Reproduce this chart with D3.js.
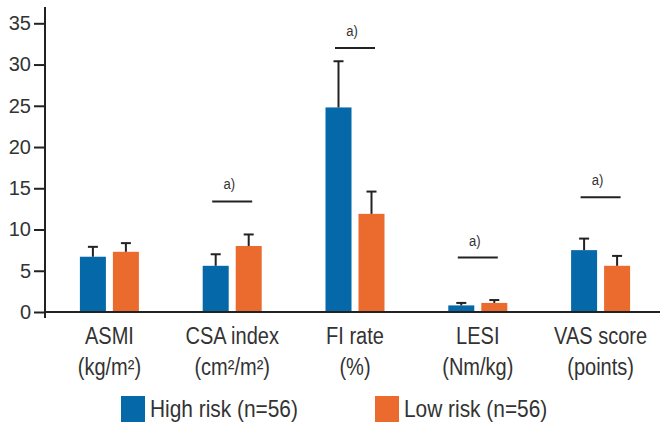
<!DOCTYPE html>
<html>
<head>
<meta charset="utf-8">
<script src="https://d3js.org/d3.v7.min.js"></script>
<title>Risk groups</title>
<style>
body {margin:0; background:#fff;}
text {font-family:"Liberation Sans",Arial,sans-serif; fill:#333;}
</style>
</head>
<body>
<div id="myDiv"></div>
<script>
// data
var categories = ["ASMI", "CSA index", "FI rate", "LESI", "VAS score"];
var units = ["(kg/m\u00B2)", "(cm\u00B2/m\u00B2)", "(%)", "(Nm/kg)", "(points)"];
var groups = ["High risk (n=56)", "Low risk (n=56)"];
var highMean = [6.7, 5.6, 24.8, 0.8, 7.5];
var highErr = [1.2, 1.4, 5.6, 0.3, 1.4];
var lowMean = [7.3, 8.0, 11.9, 1.1, 5.6];
var lowErr = [1.05, 1.4, 2.7, 0.35, 1.2];
var sigLevel = [null, 13.4, 32.0, 6.6, 13.9];
var sigLabel = "a)";
var yTicks = [0, 5, 10, 15, 20, 25, 30, 35];
var colors = ["#0468a9", "#eb6a2e"];

var width = 665, height = 430;
var squeeze = 0.87; // the figure uses a condensed face

var svg = d3.select("#myDiv").append("svg")
	.attr("width", width)
	.attr("height", height);

// scales
var yScale = d3.scaleLinear()
	.domain([0, 35])
	.range([312, 23.3]);

var x0 = d3.scaleBand()
	.domain(categories)
	.range([48, 662]);

var x1 = d3.scaleBand()
	.domain(groups)
	.range([0, 59])
	.paddingInner(0.212);

var groupOffset = (x0.bandwidth() - 59) / 2;

// rows for bars
var rows = [];
categories.forEach(function(c, i) {
	rows.push({cat: c, group: groups[0], mean: highMean[i], err: highErr[i], color: colors[0]});
	rows.push({cat: c, group: groups[1], mean: lowMean[i], err: lowErr[i], color: colors[1]});
});

function barX(d) { return x0(d.cat) + groupOffset + x1(d.group); }

// bars
svg.selectAll("rect.bar").data(rows).enter()
	.append("rect")
	.attr("class", "bar")
	.attr("x", barX)
	.attr("y", function(d) { return yScale(d.mean); })
	.attr("width", x1.bandwidth())
	.attr("height", function(d) { return yScale(0) - yScale(d.mean); })
	.attr("fill", function(d) { return d.color; });

// error bars
var err = svg.selectAll("g.err").data(rows).enter()
	.append("g")
	.attr("class", "err")
	.attr("stroke", "#222")
	.attr("stroke-width", 2);
err.append("line")
	.attr("x1", function(d) { return barX(d) + x1.bandwidth() / 2; })
	.attr("x2", function(d) { return barX(d) + x1.bandwidth() / 2; })
	.attr("y1", function(d) { return yScale(d.mean); })
	.attr("y2", function(d) { return yScale(d.mean + d.err); });
err.append("line")
	.attr("x1", function(d) { return barX(d) + x1.bandwidth() / 2 - 5; })
	.attr("x2", function(d) { return barX(d) + x1.bandwidth() / 2 + 5; })
	.attr("y1", function(d) { return yScale(d.mean + d.err); })
	.attr("y2", function(d) { return yScale(d.mean + d.err); });

// significance marks
var sig = categories.map(function(c, i) { return {cat: c, level: sigLevel[i]}; })
	.filter(function(d) { return d.level !== null; });

svg.selectAll("line.sig").data(sig).enter()
	.append("line")
	.attr("class", "sig")
	.attr("x1", function(d) { return x0(d.cat) + x0.bandwidth() / 2 - 20; })
	.attr("x2", function(d) { return x0(d.cat) + x0.bandwidth() / 2 + 20; })
	.attr("y1", function(d) { return yScale(d.level); })
	.attr("y2", function(d) { return yScale(d.level); })
	.attr("stroke", "#222")
	.attr("stroke-width", 2);

svg.selectAll("text.sig").data(sig).enter()
	.append("text")
	.attr("class", "sig")
	.attr("transform", function(d) {
		return "translate(" + (x0(d.cat) + x0.bandwidth() / 2 - 3) + "," + (yScale(d.level) - 12) + ") scale(" + squeeze + ",1)";
	})
	.attr("text-anchor", "middle")
	.style("font-size", "15px")
	.text(sigLabel);

// y axis
var yaxis = d3.axisLeft(yScale)
	.tickValues(yTicks)
	.tickSize(11)
	.tickPadding(3);

var gy = svg.append("g")
	.attr("transform", "translate(45,0)")
	.call(yaxis);
gy.select(".domain").remove();
gy.selectAll("line").attr("stroke", "#222").attr("stroke-width", 2);
gy.selectAll("text")
	.style("font-family", "'Liberation Sans', sans-serif")
	.style("font-size", "20px")
	.attr("fill", "#333");

gy.append("line")
	.attr("x1", 0).attr("x2", 0)
	.attr("y1", 7).attr("y2", 318)
	.attr("stroke", "#222")
	.attr("stroke-width", 2);

// x axis line
svg.append("line")
	.attr("x1", 45).attr("x2", 660)
	.attr("y1", yScale(0)).attr("y2", yScale(0))
	.attr("stroke", "#222")
	.attr("stroke-width", 2);

// category labels
var labels = svg.selectAll("g.cat").data(categories).enter()
	.append("g")
	.attr("class", "cat")
	.attr("transform", function(d) { return "translate(" + (x0(d) + x0.bandwidth() / 2) + ",0)"; });
labels.append("text")
	.attr("transform", "translate(0,344) scale(" + squeeze + ",1)")
	.attr("text-anchor", "middle")
	.style("font-size", "23px")
	.text(function(d) { return d; });
labels.append("text")
	.attr("transform", "translate(0,375) scale(" + squeeze + ",1)")
	.attr("text-anchor", "middle")
	.style("font-size", "23px")
	.text(function(d, i) { return units[i]; });

// legend
var legendX = [121, 375];
var legend = svg.selectAll("g.legend").data(groups).enter()
	.append("g")
	.attr("class", "legend")
	.attr("transform", function(d, i) { return "translate(" + legendX[i] + ",396)"; });
legend.append("rect")
	.attr("width", 24)
	.attr("height", 26)
	.attr("fill", function(d, i) { return colors[i]; });
legend.append("text")
	.attr("transform", "translate(29,21) scale(" + squeeze + ",1)")
	.style("font-size", "24px")
	.text(function(d) { return d; });
</script>
</body>
</html>
